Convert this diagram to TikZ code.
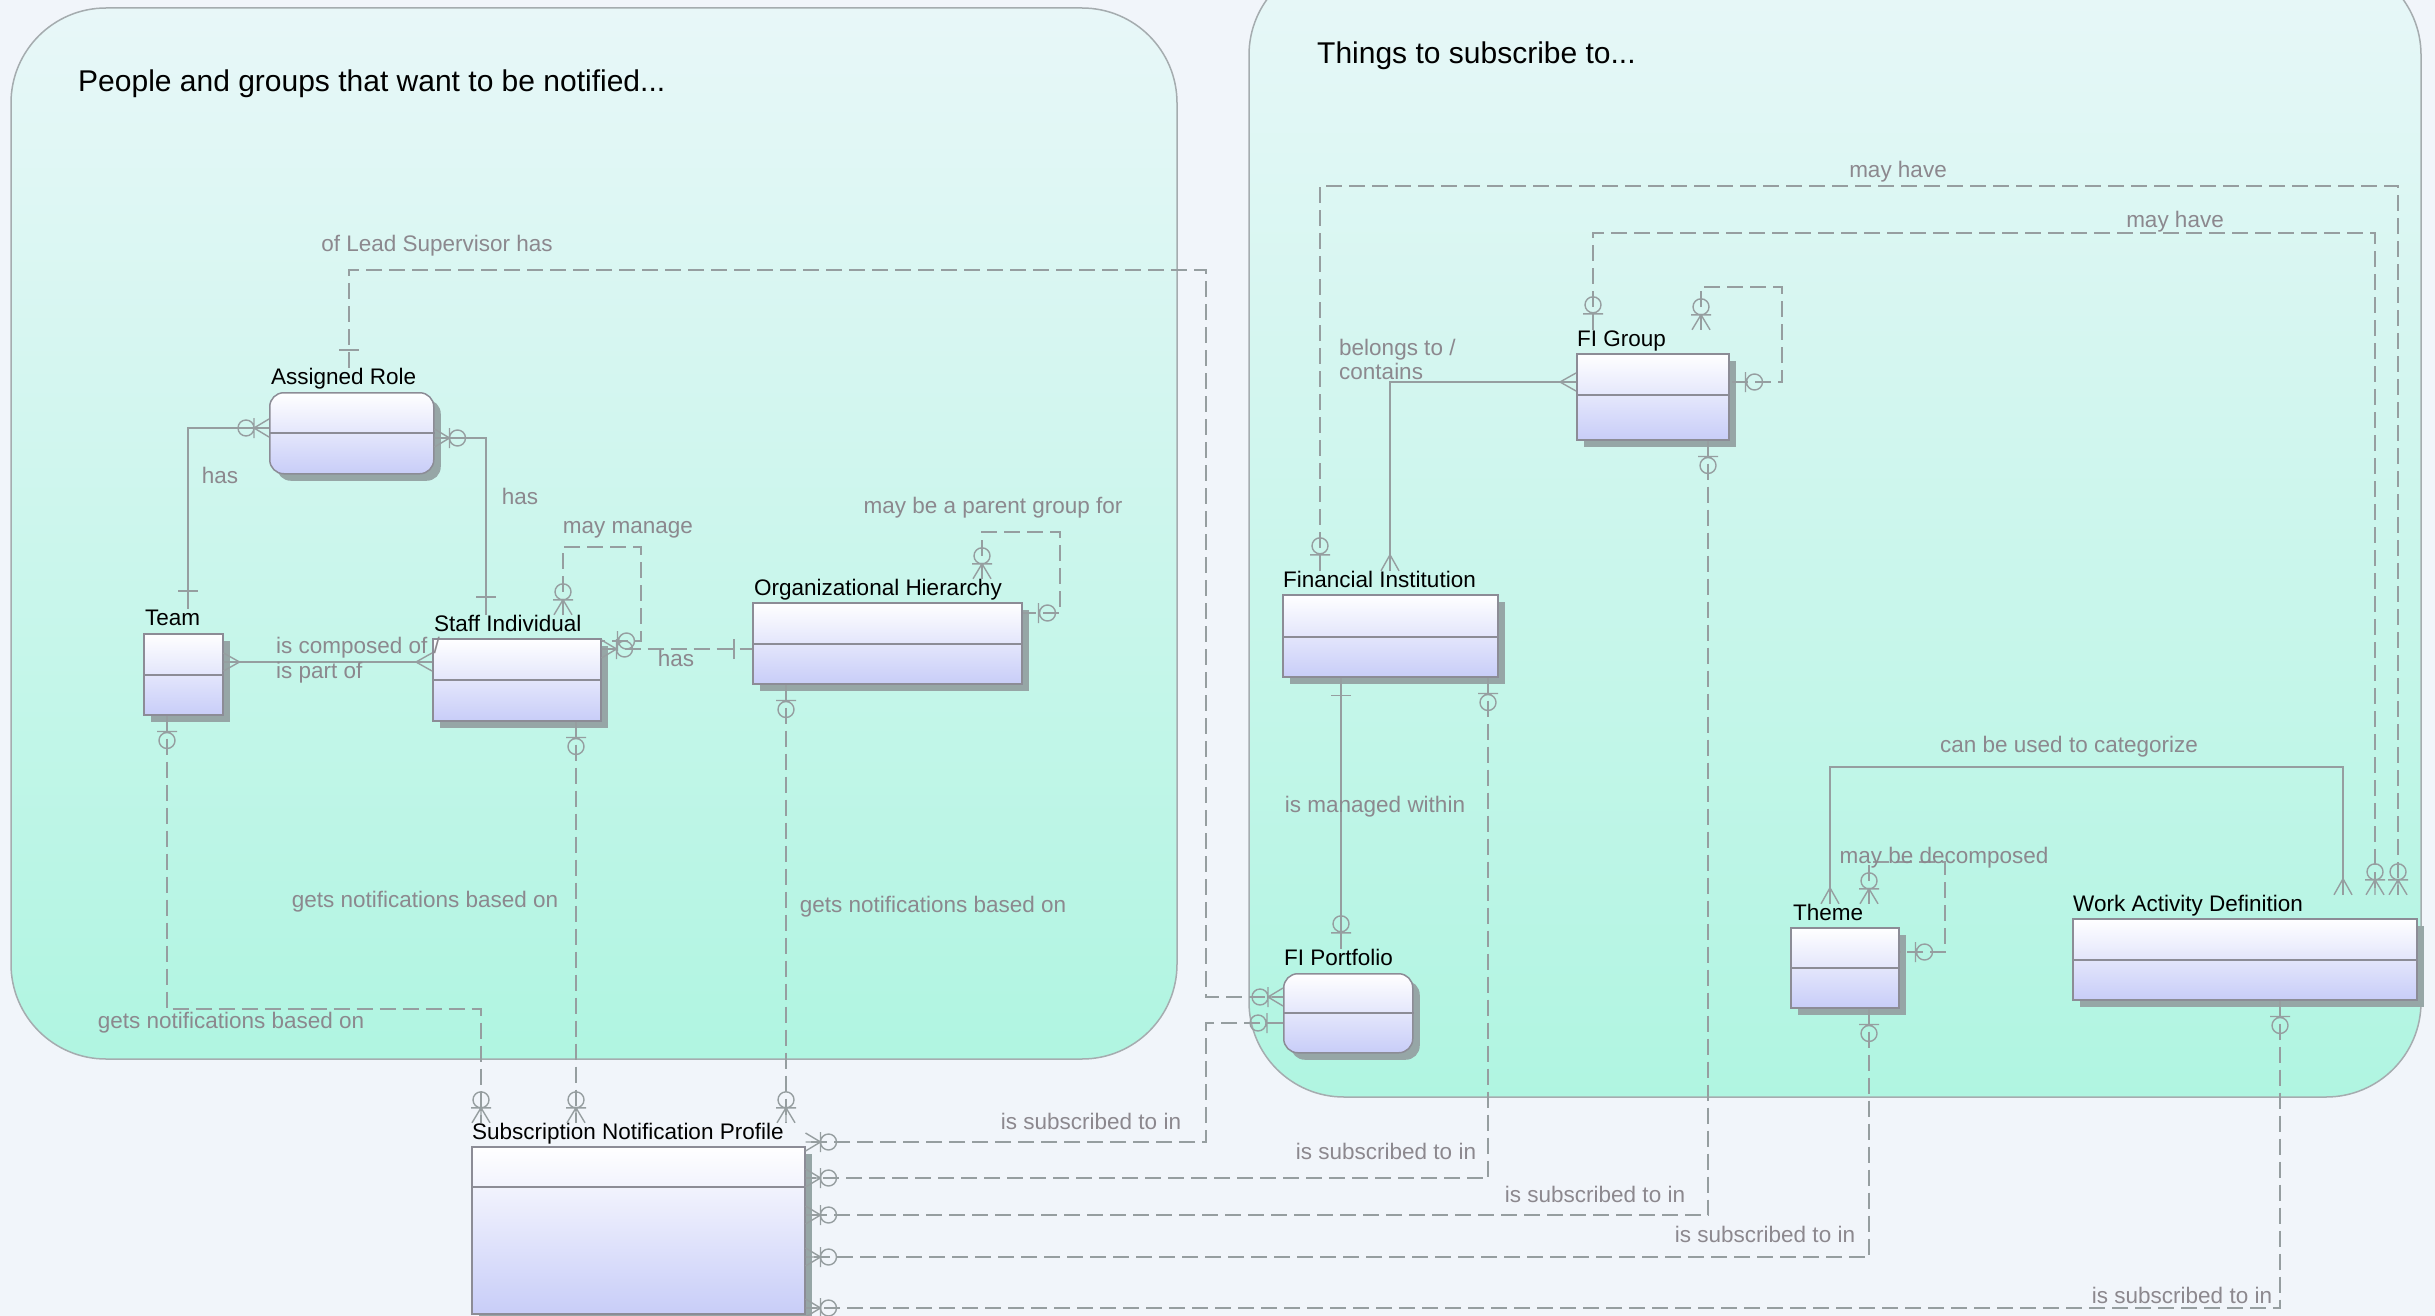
\documentclass[tikz,border=0pt]{standalone}
\usepackage{fontspec}
\setmainfont{Liberation Sans}
\usetikzlibrary{shadows}
\definecolor{bgc}{RGB}{241,245,250}
\definecolor{ctop}{RGB}{232,247,248}
\definecolor{cbot}{RGB}{176,245,225}
\definecolor{contd}{RGB}{165,172,175}
\definecolor{entb}{RGB}{200,205,248}
\definecolor{entd}{RGB}{140,140,150}
\definecolor{shc}{RGB}{150,166,166}
\definecolor{lnc}{RGB}{150,158,160}
\definecolor{lblc}{RGB}{140,136,142}
\begin{document}
\begin{tikzpicture}[x=1pt,y=-1pt,
  cont/.style={draw=contd, line width=1.5pt, rounded corners=95pt, top color=ctop, bottom color=cbot},
  ent/.style={draw=entd, line width=1.5pt, top color=white, bottom color=entb, inner sep=0pt, anchor=north west,
    drop shadow={shadow xshift=7pt, shadow yshift=-7pt, fill=shc, opacity=1}},
  rent/.style={ent, rounded corners=14pt},
  elabel/.style={anchor=base west, inner sep=0pt, text height=16pt, text depth=4pt, font=\fontsize{22.5}{27}\selectfont, text=black},
  rlabel/.style={inner sep=0pt, text height=16pt, text depth=5pt, font=\fontsize{22.5}{27}\selectfont, text=lblc},
  ttl/.style={anchor=base west, inner sep=0pt, font=\fontsize{30}{36}\selectfont, text=black},
  sl/.style={draw=lnc, line width=1.4pt},
  dl/.style={draw=lnc, line width=1.4pt, dash pattern=on 16pt off 7pt},
  mk/.style={draw=lnc, line width=1.4pt, solid},
  div/.style={draw=entd, line width=1.5pt},
  pics/zm/.style={code={\draw[mk] (0,-9)--(15,0)--(0,9) (0,0)--(15,0) (15,-10)--(15,10) (23,0) circle[radius=8pt];}},
  pics/zo/.style={code={\draw[mk] (16,-10)--(16,10) (25,0) circle[radius=8pt];}},
  pics/one/.style={code={\draw[mk] (18,-10)--(18,10);}},
  pics/many/.style={code={\draw[mk] (0,-9)--(16,0)--(0,9) (0,0)--(16,0);}}
]
\useasboundingbox (0,0) rectangle (2435,1316);
\clip (0,0) rectangle (2435,1316);
\fill[bgc] (0,0) rectangle (2435,1316);

% containers
\path[cont] (11,8) rectangle (1177,1059);
\path[cont] (1249,-40) rectangle (2421,1097);
\node[ttl] (t1) at (78,92) {People and groups that want to be notified...};
\node[ttl] (t2) at (1317,64) {Things to subscribe to...};

% entities
\node[rent, minimum width=164pt, minimum height=81pt] (ar) at (269,392) {};
\node[ent, minimum width=79pt, minimum height=81pt] (team) at (143,633) {};
\node[ent, minimum width=168pt, minimum height=82pt] (staff) at (432,638) {};
\node[ent, minimum width=269pt, minimum height=81pt] (oh) at (752,602) {};
\node[ent, minimum width=333pt, minimum height=167pt] (snp) at (471,1146) {};
\node[ent, minimum width=215pt, minimum height=82pt] (fi) at (1282,594) {};
\node[rent, minimum width=129pt, minimum height=79pt] (fip) at (1283,973) {};
\node[ent, minimum width=152pt, minimum height=86pt] (fig) at (1576,353) {};
\node[ent, minimum width=108pt, minimum height=80pt] (theme) at (1790,927) {};
\node[ent, minimum width=344pt, minimum height=81pt] (wad) at (2072,918) {};

\draw[div] (ar.west |- 0,433) -- (ar.east |- 0,433);
\draw[div] (team.west |- 0,675) -- (team.east |- 0,675);
\draw[div] (staff.west |- 0,680) -- (staff.east |- 0,680);
\draw[div] (oh.west |- 0,644) -- (oh.east |- 0,644);
\draw[div] (snp.west |- 0,1187) -- (snp.east |- 0,1187);
\draw[div] (fi.west |- 0,637) -- (fi.east |- 0,637);
\draw[div] (fip.west |- 0,1013) -- (fip.east |- 0,1013);
\draw[div] (fig.west |- 0,395) -- (fig.east |- 0,395);
\draw[div] (theme.west |- 0,968) -- (theme.east |- 0,968);
\draw[div] (wad.west |- 0,960) -- (wad.east |- 0,960);

% entity labels
\node[elabel] (arL) at (271,384) {Assigned Role};
\node[elabel] (teamL) at (145,625) {Team};
\node[elabel] (staffL) at (434,631) {Staff Individual};
\node[elabel] (ohL) at (754,595) {Organizational Hierarchy};
\node[elabel] (snpL) at (472,1139) {Subscription Notification Profile};
\node[elabel] (fiL) at (1283,587) {Financial Institution};
\node[elabel] (fipL) at (1284,965) {FI Portfolio};
\node[elabel] (figL) at (1577,346) {FI Group};
\node[elabel] (themeL) at (1793,920) {Theme};
\node[elabel] (wadL) at (2073,911) {Work Activity Definition};

% connectors
\draw[dl] (arL.north -| 349,0) |- (1206,270) |- (fip.west |- 0,997);
\pic[rotate=90] at (arL.north -| 349,0) {one};
\pic[rotate=180] at (fip.west |- 0,997) {zm};

\draw[sl] (teamL.north -| 188,0) |- (ar.west |- 0,428);
\pic[rotate=90] at (teamL.north -| 188,0) {one};
\pic[rotate=180] at (ar.west |- 0,428) {zm};

\draw[sl] (ar.east |- 0,438) -| (staffL.north -| 486,0);
\pic at (ar.east |- 0,438) {zm};
\pic[rotate=90] at (staffL.north -| 486,0) {one};

\draw[sl] (team.east |- 0,662) -- (staff.west |- 0,662);
\pic at (team.east |- 0,662) {many};
\pic[rotate=180] at (staff.west |- 0,662) {many};

\draw[dl] (staffL.north -| 563,0) |- (641,547) |- (staff.east |- 0,641);
\pic[rotate=90] at (staffL.north -| 563,0) {zm};
\pic at (staff.east |- 0,641) {zo};

\draw[dl] (staff.east |- 0,649) -- (oh.west |- 0,649);
\pic at (staff.east |- 0,649) {zm};
\pic[rotate=180] at (oh.west |- 0,649) {one};

\draw[dl] (ohL.north -| 982,0) |- (1060,532) |- (oh.east |- 0,613);
\pic[rotate=90] at (ohL.north -| 982,0) {zm};
\pic at (oh.east |- 0,613) {zo};

\draw[dl] (team.south -| 167,0) |- (481,1009) -- (snpL.north -| 481,0);
\pic[rotate=-90] at (team.south -| 167,0) {zo};
\pic[rotate=90] at (snpL.north -| 481,0) {zm};

\draw[dl] (staff.south -| 576,0) -- (snpL.north -| 576,0);
\pic[rotate=-90] at (staff.south -| 576,0) {zo};
\pic[rotate=90] at (snpL.north -| 576,0) {zm};

\draw[dl] (oh.south -| 786,0) -- (snpL.north -| 786,0);
\pic[rotate=-90] at (oh.south -| 786,0) {zo};
\pic[rotate=90] at (snpL.north -| 786,0) {zm};

\draw[sl] (fig.west |- 0,382) -| (fiL.north -| 1390,0);
\pic[rotate=180] at (fig.west |- 0,382) {many};
\pic[rotate=90] at (fiL.north -| 1390,0) {many};

\draw[dl] (fiL.north -| 1320,0) |- (2398,186) -- (wadL.north -| 2398,0);
\pic[rotate=90] at (fiL.north -| 1320,0) {zo};
\pic[rotate=90] at (wadL.north -| 2398,0) {zm};

\draw[dl] (figL.north -| 1593,0) |- (2375,233) -- (wadL.north -| 2375,0);
\pic[rotate=90] at (figL.north -| 1593,0) {zo};
\pic[rotate=90] at (wadL.north -| 2375,0) {zm};

\draw[dl] (figL.north -| 1701,0) |- (1782,287) |- (fig.east |- 0,382);
\pic[rotate=90] at (figL.north -| 1701,0) {zm};
\pic at (fig.east |- 0,382) {zo};

\draw[dl] (fig.south -| 1708,0) |- (snp.east |- 0,1215);
\pic[rotate=-90] at (fig.south -| 1708,0) {zo};
\pic at (snp.east |- 0,1215) {zm};

\draw[dl] (fi.south -| 1488,0) |- (snp.east |- 0,1178);
\pic[rotate=-90] at (fi.south -| 1488,0) {zo};
\pic at (snp.east |- 0,1178) {zm};

\draw[sl] (fi.south -| 1341,0) -- (fipL.north -| 1341,0);
\pic[rotate=-90] at (fi.south -| 1341,0) {one};
\pic[rotate=90] at (fipL.north -| 1341,0) {zo};

\draw[dl] (fip.west |- 0,1023) -| (1206,1142) -- (snp.east |- 0,1142);
\pic[rotate=180] at (fip.west |- 0,1023) {zo};
\pic at (snp.east |- 0,1142) {zm};

\draw[sl] (themeL.north -| 1830,0) |- (2343,767) -- (wadL.north -| 2343,0);
\pic[rotate=90] at (themeL.north -| 1830,0) {many};
\pic[rotate=90] at (wadL.north -| 2343,0) {many};

\draw[dl] (themeL.north -| 1869,0) |- (1945,862) |- (theme.east |- 0,952);
\pic[rotate=90] at (themeL.north -| 1869,0) {zm};
\pic at (theme.east |- 0,952) {zo};

\draw[dl] (theme.south -| 1869,0) |- (snp.east |- 0,1257);
\pic[rotate=-90] at (theme.south -| 1869,0) {zo};
\pic at (snp.east |- 0,1257) {zm};

\draw[dl] (wad.south -| 2280,0) |- (snp.east |- 0,1308);
\pic[rotate=-90] at (wad.south -| 2280,0) {zo};
\pic at (snp.east |- 0,1308) {zm};

% relationship labels
\node[rlabel] (l1) at (437,246) {of Lead Supervisor has};
\node[rlabel] (l2) at (220,478) {has};
\node[rlabel] (l3) at (520,499) {has};
\node[rlabel, anchor=west] (l4) at (276,648) {is composed of /};
\node[rlabel, anchor=west] (l4b) at (276,673) {is part of};
\node[rlabel] (l5) at (628,528) {may manage};
\node[rlabel] (l6) at (676,661) {has};
\node[rlabel] (l7) at (993,508) {may be a parent group for};
\node[rlabel] (l8) at (231,1023) {gets notifications based on};
\node[rlabel] (l9) at (425,902) {gets notifications based on};
\node[rlabel] (l10) at (933,907) {gets notifications based on};
\node[rlabel] (l11) at (1898,172) {may have};
\node[rlabel] (l12) at (2175,222) {may have};
\node[rlabel, anchor=west] (l13) at (1339,350) {belongs to /};
\node[rlabel, anchor=west] (l13b) at (1339,374) {contains};
\node[rlabel] (l14) at (1375,807) {is managed within};
\node[rlabel] (l15) at (2069,747) {can be used to categorize};
\node[rlabel] (l16) at (1944,858) {may be decomposed};
\node[rlabel] (l17) at (1091,1124) {is subscribed to in};
\node[rlabel] (l18) at (1386,1154) {is subscribed to in};
\node[rlabel] (l19) at (1595,1197) {is subscribed to in};
\node[rlabel] (l20) at (1765,1237) {is subscribed to in};
\node[rlabel] (l21) at (2182,1298) {is subscribed to in};
\end{tikzpicture}
\end{document}
